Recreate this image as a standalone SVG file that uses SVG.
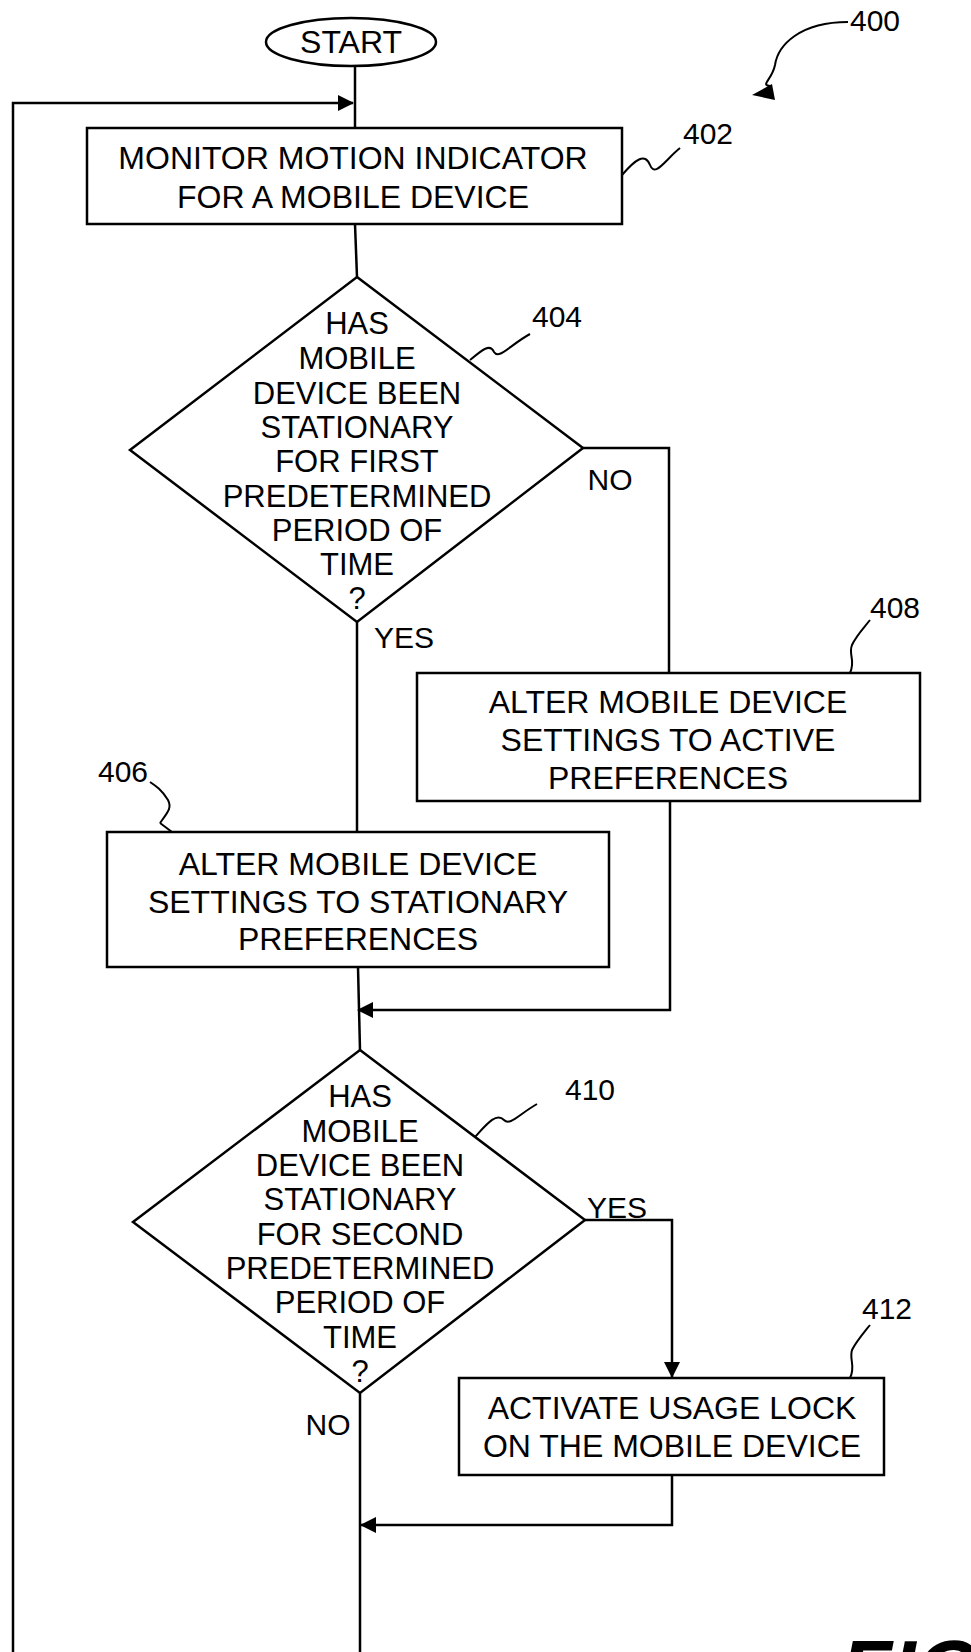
<svg xmlns="http://www.w3.org/2000/svg" width="971" height="1652" viewBox="0 0 971 1652">
<defs>
<marker id="arr" markerWidth="12" markerHeight="12" refX="11" refY="6" orient="auto" markerUnits="userSpaceOnUse" viewBox="0 0 12 12">
<path d="M0,0 L12,6 L0,12 Z" fill="#000"/>
</marker>
<marker id="arrBig" markerWidth="16" markerHeight="16" refX="15" refY="8" orient="auto" markerUnits="userSpaceOnUse" viewBox="0 0 16 16">
<path d="M0,0 L16,8 L0,16 Z" fill="#000"/>
</marker>
</defs>
<style>
.shape{fill:#fff;stroke:#000;stroke-width:2.5}
.line{fill:none;stroke:#000;stroke-width:2.5}
.lead{fill:none;stroke:#000;stroke-width:2}
text{font-family:"Liberation Sans",Arial,sans-serif;fill:#000;text-anchor:middle}
.t{font-size:32px}
.d{font-size:31px}
.lbl{font-size:30px}
.ref{font-size:30px;text-anchor:start}
</style>
<rect width="971" height="1652" fill="#fff"/>

<g id="connectors">
<line class="line" x1="355" y1="66" x2="355" y2="128"/>
<polyline class="line" points="13,1652 13,103 353,103" marker-end="url(#arrBig)"/>
<line class="line" x1="355" y1="224" x2="357" y2="277"/>
<polyline class="line" points="583,448 669,448 669,673"/>
<line class="line" x1="357" y1="622" x2="357" y2="832"/>
<polyline class="line" points="670,801 670,1010 358,1010" marker-end="url(#arrBig)"/>
<line class="line" x1="358" y1="967" x2="360" y2="1050"/>
<polyline class="line" points="585,1220 672,1220 672,1377" marker-end="url(#arrBig)"/>
<polyline class="line" points="672,1475 672,1525 361,1525" marker-end="url(#arrBig)"/>
<line class="line" x1="360" y1="1393" x2="360" y2="1652"/>
<text class="lbl" x="610" y="490">NO</text>
<text class="lbl" x="404" y="648">YES</text>
<text class="lbl" x="617" y="1218">YES</text>
<text class="lbl" x="328" y="1435">NO</text>
</g>

<g id="start">
<ellipse class="shape" cx="351" cy="42" rx="85" ry="24"/>
<text class="t" x="351" y="53">START</text>
</g>

<g id="n402">
<rect class="shape" x="87" y="128" width="535" height="96"/>
<text class="t" x="353" y="169">MONITOR MOTION INDICATOR</text>
<text class="t" x="353" y="208">FOR A MOBILE DEVICE</text>
<path class="lead" d="M622,175 C635,160 645,152 650,165 C655,178 665,160 680,148"/>
<text class="ref" x="683" y="144">402</text>
</g>

<g id="n404">
<polygon class="shape" points="357,277 583,448 357,622 130,450"/>
<text class="d" x="357" y="334">HAS</text>
<text class="d" x="357" y="369">MOBILE</text>
<text class="d" x="357" y="404">DEVICE BEEN</text>
<text class="d" x="357" y="438">STATIONARY</text>
<text class="d" x="357" y="472">FOR FIRST</text>
<text class="d" x="357" y="507">PREDETERMINED</text>
<text class="d" x="357" y="541">PERIOD OF</text>
<text class="d" x="357" y="575">TIME</text>
<text class="d" x="357" y="609">?</text>
<path class="lead" d="M470,360 C482,350 490,343 494,352 C499,360 510,345 530,334"/>
<text class="ref" x="532" y="327">404</text>
</g>

<g id="n408">
<rect class="shape" x="417" y="673" width="503" height="128"/>
<text class="t" x="668" y="713">ALTER MOBILE DEVICE</text>
<text class="t" x="668" y="751">SETTINGS TO ACTIVE</text>
<text class="t" x="668" y="789">PREFERENCES</text>
<path class="lead" d="M850,673 C856,660 848,655 852,645 C856,636 862,630 870,620"/>
<text class="ref" x="870" y="618">408</text>
</g>

<g id="n406">
<rect class="shape" x="107" y="832" width="502" height="135"/>
<text class="t" x="358" y="875">ALTER MOBILE DEVICE</text>
<text class="t" x="358" y="913">SETTINGS TO STATIONARY</text>
<text class="t" x="358" y="950">PREFERENCES</text>
<path class="lead" d="M160,823 C168,812 172,808 168,800 C162,790 156,786 150,782"/>
<path class="lead" d="M172,832 L160,823"/>
<text class="ref" x="98" y="782">406</text>
</g>

<g id="n410">
<polygon class="shape" points="360,1050 585,1220 360,1393 133,1222"/>
<text class="d" x="360" y="1107">HAS</text>
<text class="d" x="360" y="1142">MOBILE</text>
<text class="d" x="360" y="1176">DEVICE BEEN</text>
<text class="d" x="360" y="1210">STATIONARY</text>
<text class="d" x="360" y="1245">FOR SECOND</text>
<text class="d" x="360" y="1279">PREDETERMINED</text>
<text class="d" x="360" y="1313">PERIOD OF</text>
<text class="d" x="360" y="1348">TIME</text>
<text class="d" x="360" y="1382">?</text>
<path class="lead" d="M499,1197 C510,1185 520,1172 528,1180 C534,1186 542,1175 561,1164" transform="translate(-24,-60)"/>
<text class="ref" x="565" y="1100">410</text>
</g>

<g id="n412">
<rect class="shape" x="459" y="1378" width="425" height="97"/>
<text class="t" x="672" y="1419">ACTIVATE USAGE LOCK</text>
<text class="t" x="672" y="1457">ON THE MOBILE DEVICE</text>
<path class="lead" d="M850,1378 C856,1366 849,1360 852,1350 C856,1342 862,1335 870,1325"/>
<text class="ref" x="862" y="1319">412</text>
</g>

<g id="n400">
<path class="lead" d="M848,22 C800,22 778,45 775,65 C772,80 760,85 770,86" stroke-width="2.5"/>
<path d="M772,84 L752,95 L775,100 Z" fill="#000"/>
<text class="ref" x="850" y="31">400</text>
</g>

<text x="840" y="1700" style="font-size:85px;font-weight:bold;font-style:italic;text-anchor:start">FIG</text>
</svg>
